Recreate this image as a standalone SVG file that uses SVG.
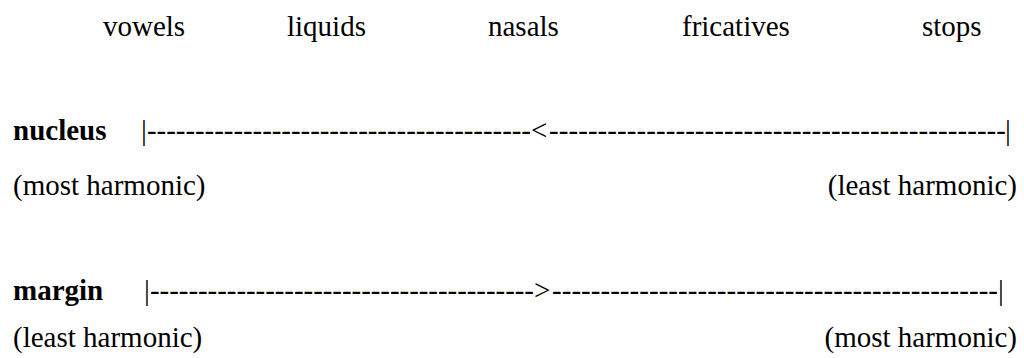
<svg xmlns="http://www.w3.org/2000/svg" width="1024" height="358" viewBox="0 0 1024 358">
<style>
text{font-family:"Liberation Serif","Times New Roman",serif;font-size:29px;fill:#000}
.b{font-weight:bold}
.r{text-anchor:end}
</style>
<rect width="1024" height="358" fill="#fff"/>
<g id="classes">
<text x="103" y="36">vowels</text>
<text x="287" y="36">liquids</text>
<text x="488" y="36">nasals</text>
<text x="682" y="36">fricatives</text>
<text x="922" y="36">stops</text>
</g>
<g id="nucleus">
<text class="b" x="13" y="140">nucleus</text>
<text x="13" y="195">(most harmonic)</text>
<text class="r" x="1017" y="195">(least harmonic)</text>
</g>
<g id="margin">
<text class="b" x="13" y="300">margin</text>
<text x="13" y="347">(least harmonic)</text>
<text class="r" x="1017" y="347">(most harmonic)</text>
</g>
<g id="connectors">
<text y="140"><tspan x="141">|</tspan><tspan x="147" textLength="384" lengthAdjust="spacing">----------------------------------------</tspan><tspan x="531">&lt;</tspan><tspan x="549" textLength="457" lengthAdjust="spacing">-----------------------------------------------</tspan><tspan x="1005">|</tspan></text>
<text y="300"><tspan x="144">|</tspan><tspan x="150" textLength="384" lengthAdjust="spacing">----------------------------------------</tspan><tspan x="534">&gt;</tspan><tspan x="552" textLength="446" lengthAdjust="spacing">----------------------------------------------</tspan><tspan x="998">|</tspan></text>
</g>
</svg>
